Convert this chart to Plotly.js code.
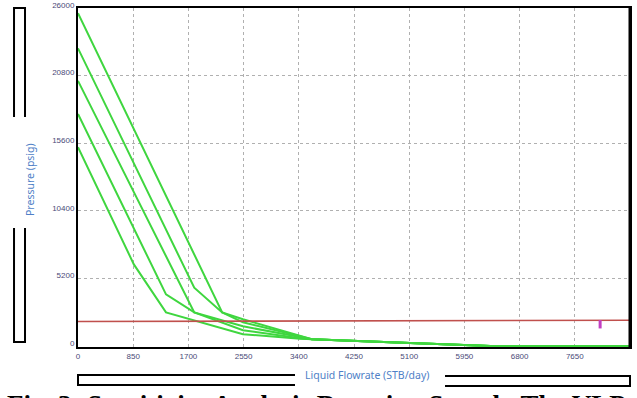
<!DOCTYPE html>
<html>
<head>
<meta charset="utf-8">
<script src="https://cdn.plot.ly/plotly-3.0.1.min.js"></script>
<style>html,body{margin:0;padding:0;background:#fff;overflow:hidden}</style>
</head>
<body>
<div id="chart" style="width:637px;height:398px"></div>
<script>
// ---- data ----
var xTicks = [0, 850, 1700, 2550, 3400, 4250, 5100, 5950, 6800, 7650, 8500];
var yTicks = [0, 5200, 10400, 15600, 20800, 26000];

// shared low-pressure tail where all VLP curves merge
var tailRate = [3600, 5110, 5960, 6450, 8500];
var tailPres = [540, 250, 100, 0, 0];

var vlp1Rate = [0, 860, 1355, 2540, 3420];
var vlp1Pres = [15300, 6290, 2600, 920, 580];
var vlp2Rate = [0, 1355, 1790, 2540, 3420];
var vlp2Pres = [17850, 3990, 2600, 1230, 610];
var vlp3Rate = [0, 1790, 2540, 3420];
var vlp3Pres = [20400, 2600, 1530, 690];
var vlp4Rate = [0, 1790, 2220, 2540, 3420];
var vlp4Pres = [22900, 4500, 2600, 1840, 770];
var vlp5Rate = [0, 2220, 2540, 3420];
var vlp5Pres = [25600, 2600, 2070, 840];

var iprRate = [0, 3700, 7600, 8500];
var iprPres = [1900, 1950, 2000, 2000];

var opRate = [8040];
var opPres = [1690];

// ---- layout geometry ----
var W = 637, H = 398, L = 78, R = 630, T = 8, B = 347;
function px(x){ return (x - L) / (R - L); }
function py(y){ return (B - y) / (B - T); }
function path(pts){
  return pts.map(function(p, i){ return (i ? 'L' : 'M') + px(p[0]).toFixed(4) + ',' + py(p[1]).toFixed(4); }).join(' ');
}

var green = '#3fd63f';
var traces = [];
[[vlp1Rate, vlp1Pres], [vlp2Rate, vlp2Pres], [vlp3Rate, vlp3Pres], [vlp4Rate, vlp4Pres], [vlp5Rate, vlp5Pres]].forEach(function(c){
  traces.push({
    x: c[0].concat(tailRate), y: c[1].concat(tailPres),
    type: 'scatter', mode: 'lines', line: {color: green, width: 2}, hoverinfo: 'skip'
  });
});
traces.push({x: iprRate, y: iprPres, type: 'scatter', mode: 'lines', line: {color: '#c0504d', width: 1.6}, hoverinfo: 'skip'});
traces.push({x: opRate, y: opPres, type: 'scatter', mode: 'markers',
  marker: {symbol: 'line-ns', size: 6, color: '#c23fc2', line: {width: 3, color: '#c23fc2'}}, hoverinfo: 'skip'});

var frame = {color: '#000', width: 2};
var layout = {
  width: W, height: H,
  margin: {l: L, r: W - R, t: T, b: H - B, pad: 0},
  paper_bgcolor: '#fff', plot_bgcolor: '#fff',
  showlegend: false,
  font: {family: 'Liberation Sans, Arial, sans-serif'},
  xaxis: {
    range: [0, 8500], tickvals: xTicks, ticktext: xTicks.map(String),
    showgrid: true, gridcolor: '#b0b0b0', griddash: 'dot', gridwidth: 1,
    zeroline: false, showline: true, linecolor: '#000', linewidth: 2, mirror: true,
    ticks: '', tickfont: {size: 8, color: '#4a4a78'}
  },
  yaxis: {
    range: [-60, 26000], tickvals: yTicks, ticktext: yTicks.map(String),
    showgrid: true, gridcolor: '#b0b0b0', griddash: 'dot', gridwidth: 1,
    zeroline: false, showline: true, linecolor: '#000', linewidth: 2, mirror: true,
    ticks: '', tickfont: {size: 8, color: '#4a4a78'}, ticklabelshift: -3
  },
  shapes: [
    {type: 'line', xref: 'paper', yref: 'paper', x0: 1, x1: 1, y0: 0, y1: 1, line: {color: '#000', width: 3}},
    {type: 'path', xref: 'paper', yref: 'paper', path: path([[14,117],[14,8],[25,8],[25,117]]), line: frame},
    {type: 'path', xref: 'paper', yref: 'paper', path: path([[14,228],[14,342],[25,342],[25,228]]), line: frame},
    {type: 'path', xref: 'paper', yref: 'paper', path: path([[295,375],[78,375],[78,385],[295,385]]), line: frame},
    {type: 'path', xref: 'paper', yref: 'paper', path: path([[445,376],[630,376],[630,386],[445,386]]), line: frame}
  ],
  annotations: [
    {xref: 'paper', yref: 'paper', x: px(21), y: py(180), text: 'Pressure (psig)', showarrow: false,
     textangle: -90, font: {family: 'Noto Sans, Open Sans, sans-serif', size: 10.5, color: '#4f7fc7'}},
    {xref: 'paper', yref: 'paper', x: px(367), y: py(384), text: 'Liquid Flowrate (STB/day)', showarrow: false,
     font: {family: 'Noto Sans, Open Sans, sans-serif', size: 10.5, color: '#4f7fc7'}},
    {xref: 'paper', yref: 'paper', x: px(5), y: py(388.3), xanchor: 'left', yanchor: 'top', showarrow: false,
     text: '<b>Fig. 3: Sensitivity Analysis Duration Search. The VLP</b>',
     font: {family: 'Liberation Serif, Times New Roman, serif', size: 27, color: '#000'}}
  ]
};

Plotly.newPlot('chart', traces, layout, {staticPlot: true, displayModeBar: false});
</script>
</body>
</html>
